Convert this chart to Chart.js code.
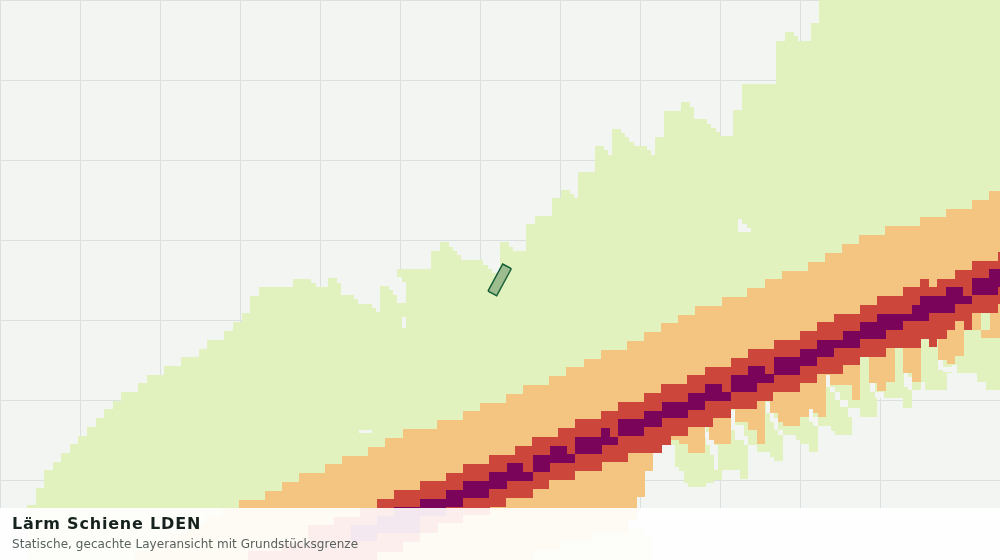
<!DOCTYPE html>
<html lang="de">
<head>
<meta charset="utf-8">
<title>Lärm Schiene LDEN</title>
<script src="https://cdn.jsdelivr.net/npm/chart.js@4"></script>
<style>
  html, body { margin: 0; padding: 0; background: #f3f5f2; }
  #karte { position: relative; width: 1000px; height: 560px; overflow: hidden; }
  #karte canvas { display: block; }
  #legende {
    position: absolute; left: 0; top: 508px; width: 1000px; height: 52px;
    background: rgba(255, 255, 255, 0.91);
    font-family: "DejaVu Sans", sans-serif;
  }
  #legende h1 { position: absolute; left: 12px; top: 6px; margin: 0; font-size: 16px; line-height: 19px; font-weight: 700; letter-spacing: 0.8px; color: #17211d; }
  #legende p { position: absolute; left: 12px; top: 28px; margin: 0; font-size: 12px; line-height: 16px; letter-spacing: 0.06px; color: #59615e; }
</style>
</head>
<body>
<div id="karte">
  <canvas id="grafico" width="1000" height="560"></canvas>
  <div id="legende">
    <h1>Lärm Schiene LDEN</h1>
    <p>Statische, gecachte Layeransicht mit Grundstücksgrenze</p>
  </div>
</div>
<script>
// Kanten der Lärmbänder
const gruenObenX = [0, 27, 36, 44, 53, 61, 70, 78, 87, 96, 104, 113, 121, 138, 147, 164, 181, 199, 207, 224, 233, 242, 250, 259, 293, 311, 316, 328, 337, 341, 354, 358, 372, 376, 380, 389, 393, 397, 431, 440, 449, 453, 457, 461, 483, 488, 492, 500, 509, 513, 526, 535, 552, 561, 570, 574, 578, 595, 604, 608, 612, 621, 625, 629, 634, 647, 651, 655, 664, 681, 690, 694, 707, 711, 716, 720, 733, 742, 776, 785, 794, 798, 811, 819, 1000];
const gruenObenY = [560, 505, 488, 470, 462, 453, 444, 436, 427, 418, 409, 401, 392, 383, 375, 366, 357, 349, 340, 331, 322, 313, 296, 287, 279, 283, 287, 278, 283, 295, 299, 304, 308, 312, 286, 290, 295, 269, 251, 242, 247, 251, 255, 260, 265, 269, 273, 242, 247, 251, 224, 216, 198, 190, 194, 198, 172, 146, 150, 155, 129, 133, 137, 142, 146, 150, 155, 137, 111, 102, 107, 119, 124, 128, 132, 136, 110, 84, 41, 32, 36, 41, 23, 0, 0];
const gruenUntenX = [0, 628, 637, 645, 653, 671, 675, 679, 684, 688, 706, 714, 722, 740, 748, 757, 770, 774, 783, 796, 800, 809, 818, 831, 835, 852, 877, 886, 903, 912, 947, 977, 986, 1000];
const gruenUntenY = [560, 514, 497, 471, 440, 445, 467, 471, 483, 487, 483, 480, 470, 479, 445, 452, 457, 461, 435, 440, 444, 452, 426, 431, 435, 417, 398, 398, 408, 390, 373, 382, 390, 390];

const orangeObenX = [118, 135, 152, 170, 187, 205, 222, 239, 265, 282, 299, 325, 342, 368, 385, 403, 437, 463, 480, 506, 523, 549, 566, 584, 601, 627, 644, 661, 678, 695, 722, 747, 765, 782, 808, 825, 842, 859, 885, 920, 946, 972, 989, 1000];
const orangeObenY = [560, 551, 543, 534, 525, 517, 508, 500, 491, 482, 473, 464, 456, 447, 438, 429, 420, 411, 403, 394, 385, 376, 367, 359, 350, 341, 332, 323, 315, 306, 297, 288, 279, 271, 262, 253, 244, 235, 226, 217, 209, 200, 191, 191];
const orangeUntenX = [118, 533, 560, 593, 628, 637, 645, 653, 679, 688, 705, 709, 714, 731, 735, 748, 757, 765, 770, 778, 783, 800, 809, 813, 818, 826, 830, 852, 860, 869, 877, 886, 895, 903, 912, 921, 938, 947, 955, 964, 972, 981, 1000];
const orangeUntenY = [560, 550, 541, 533, 520, 497, 471, 440, 444, 453, 420, 440, 444, 405, 422, 430, 444, 395, 413, 422, 426, 417, 409, 413, 417, 375, 385, 400, 350, 383, 391, 382, 340, 373, 382, 335, 360, 364, 356, 325, 330, 338, 338];

const rotObenX = [240, 248, 282, 308, 334, 360, 377, 394, 420, 446, 463, 489, 515, 532, 558, 575, 601, 618, 644, 661, 687, 705, 731, 748, 774, 800, 817, 834, 860, 877, 903, 920, 929, 937, 955, 972, 998, 1000];
const rotObenY = [560, 551, 543, 525, 517, 508, 499, 490, 481, 473, 464, 455, 446, 437, 428, 419, 411, 402, 393, 384, 375, 367, 358, 349, 340, 331, 322, 314, 305, 296, 287, 279, 287, 279, 270, 261, 252, 252];
const rotUntenX = [240, 377, 403, 420, 438, 463, 490, 506, 533, 549, 575, 602, 628, 662, 671, 688, 713, 731, 757, 773, 800, 817, 843, 860, 886, 921, 929, 937, 947, 955, 964, 972, 998, 1000];
const rotUntenY = [560, 552, 542, 533, 523, 515, 507, 498, 489, 480, 471, 462, 453, 445, 436, 427, 418, 409, 401, 392, 383, 374, 365, 357, 348, 339, 347, 339, 330, 321, 330, 313, 304, 304];

const violettObenX = [351, 377, 394, 420, 446, 463, 489, 507, 523, 533, 550, 567, 575, 601, 610, 618, 644, 662, 688, 705, 722, 731, 748, 765, 774, 800, 817, 843, 860, 877, 912, 920, 946, 963, 972, 989, 1000];
const violettObenY = [525, 516, 507, 499, 490, 481, 472, 463, 472, 455, 446, 454, 437, 428, 437, 419, 411, 402, 393, 384, 392, 375, 366, 374, 357, 349, 340, 331, 322, 314, 305, 296, 287, 296, 278, 269, 269];
const violettUntenX = [351, 377, 420, 446, 463, 489, 507, 533, 550, 575, 602, 618, 644, 662, 688, 705, 731, 757, 774, 800, 817, 834, 860, 886, 903, 929, 955, 972, 998, 1000];
const violettUntenY = [541, 533, 516, 507, 498, 489, 481, 472, 463, 454, 445, 436, 427, 418, 410, 401, 392, 383, 375, 366, 357, 348, 339, 330, 321, 313, 304, 295, 287, 287];

// Lücken im Lärmraster (null trennt die einzelnen Lücken)
const lueckenX = [359, 372, 380, 397, 402, 406, 410, 697, 703, 706, 710, 714, 718, 722, 731, 735, 744, 748, 752, 766, 770, 774, 778, 783, 787, 809, 813, 818, 822, 826, 830, 835, 840, 843, 848, 852, 860, 864, 870, 875, 884, 888, 904, 908, 912, 916, 921, 925, 929, 938, 943, 950, 952, 957];
const lueckenOben = [430, 430, null, 277, 282, 282, null, 428, 428, 432, 438, 445, 445, null, 410, 425, 436, 436, null, 402, 413, 418, 430, 430, null, 409, 417, 417, null, 375, 387, 392, 400, 400, 408, 408, 408, null, 383, 392, 392, null, 373, 377, 377, null, 382, 382, null, 357, 367, 367, 365, 365];
const lueckenUnten = [433, 433, null, 303, 303, 303, null, 432, 438, 445, 455, 470, 470, null, 430, 440, 445, 445, null, 413, 422, 430, 435, 435, null, 422, 426, 426, null, 387, 392, 400, 407, 407, 417, 417, 417, null, 392, 398, 398, null, 387, 390, 390, null, 390, 390, null, 370, 372, 372, 373, 373];
const luecken2X = [402, 406, 410, 738, 742, 747, 751];
const luecken2Oben = [317, 317, null, 219, 224, 228, 228];
const luecken2Unten = [328, 328, null, 232, 232, 232, 232];

// Grüne Einschlüsse: unter der Legende und im orangen Band
const einschlussX = [628, 637, 645, 653, 660, 981, 990];
const einschlussOben = [528, 528, 535, 548, null, 313, 313];
const einschlussUnten = [560, 560, 560, 557, null, 330, 330];

// Grundstücksgrenze
const grenzeObenX = [488, 502.7, 511.3];
const grenzeObenY = [291, 264, 268.7];
const grenzeUntenX = [488, 496.7, 511.3];
const grenzeUntenY = [291, 295.7, 268.7];

const FARBE_HINTERGRUND = '#f3f5f2';
const FARBE_GRUEN = '#e2f2bf';
const FARBE_ORANGE = '#f4c581';
const FARBE_ROT = '#cd463b';
const FARBE_VIOLETT = '#7a0459';

function punkte(xs, ys) {
    return xs.map((x, i) => ({ x, y: ys[i] }));
}

// Ein Band besteht aus zwei Treppenlinien, die Fläche dazwischen wird gefüllt
function band(xO, yO, xU, yU, farbe) {
    const basis = { stepped: true, borderWidth: 0, pointRadius: 0, spanGaps: false };
    return [
        { ...basis, data: punkte(xO, yO), fill: '+1', backgroundColor: farbe },
        { ...basis, data: punkte(xU, yU), fill: false }
    ];
}

// Oberste Ebene zuerst: Chart.js zeichnet die Datasets von hinten nach vorne
const datasets = [
    {
        data: punkte(grenzeObenX, grenzeObenY), fill: '+1', backgroundColor: 'rgba(88, 136, 93, 0.5)',
        borderColor: '#0f5a34', borderWidth: 1.5, pointRadius: 0, tension: 0
    },
    {
        data: punkte(grenzeUntenX, grenzeUntenY), fill: false,
        borderColor: '#0f5a34', borderWidth: 1.5, pointRadius: 0, tension: 0
    },
    ...band(violettObenX, violettObenY, violettUntenX, violettUntenY, FARBE_VIOLETT),
    ...band(rotObenX, rotObenY, rotUntenX, rotUntenY, FARBE_ROT),
    ...band(einschlussX, einschlussOben, einschlussX, einschlussUnten, FARBE_GRUEN),
    ...band(orangeObenX, orangeObenY, orangeUntenX, orangeUntenY, FARBE_ORANGE),
    ...band(lueckenX, lueckenOben, lueckenX, lueckenUnten, FARBE_HINTERGRUND),
    ...band(luecken2X, luecken2Oben, luecken2X, luecken2Unten, FARBE_HINTERGRUND),
    ...band(gruenObenX, gruenObenY, gruenUntenX, gruenUntenY, FARBE_GRUEN)
];

const rasterAchse = {
    type: 'linear',
    ticks: { stepSize: 80, display: false },
    grid: { color: '#dae0dd', lineWidth: 1, drawTicks: false },
    border: { display: false }
};

new Chart(document.getElementById('grafico').getContext('2d'), {
    type: 'line',
    data: { datasets },
    options: {
        responsive: false,
        animation: false,
        devicePixelRatio: 1,
        layout: { padding: 0 },
        plugins: { legend: { display: false }, tooltip: { enabled: false } },
        scales: {
            x: { ...rasterAchse, min: 0, max: 1000 },
            y: { ...rasterAchse, min: 0, max: 560, reverse: true }
        }
    }
});
</script>
</body>
</html>
